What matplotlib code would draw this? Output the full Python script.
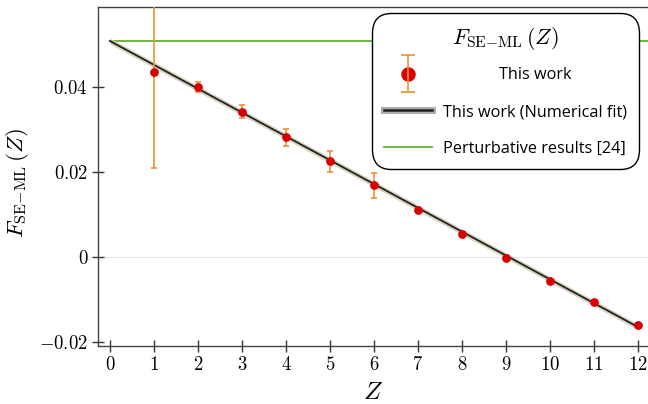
import matplotlib
matplotlib.use("Agg")
import matplotlib.pyplot as plt
from matplotlib.lines import Line2D
from matplotlib.container import ErrorbarContainer
from matplotlib.legend_handler import HandlerErrorbar
from matplotlib.offsetbox import DrawingArea, HPacker

plt.rcParams["mathtext.fontset"] = "cm"
plt.rcParams["font.family"] = ["Open Sans", "DejaVu Sans"]

# data
z_vals = [1, 2, 3, 4, 5, 6, 7, 8, 9, 10, 11, 12]
f_vals = [0.0434, 0.0399, 0.0341, 0.0281, 0.0224, 0.0168, 0.0109, 0.0054, -0.0002, -0.0056, -0.0107, -0.0160]
f_errs = [0.0226, 0.0012, 0.0016, 0.0020, 0.0025, 0.0029, 0.0004, 0.0004, 0.0004, 0.0004, 0.0005, 0.0005]

fit_z = [0, 12]
fit_f = [0.0507, -0.0165]
fit_band = [0.0007, 0.0007]

pert_z = [0, 12.3]
pert_f = [0.0507, 0.0507]

x_ticks = [0, 1, 2, 3, 4, 5, 6, 7, 8, 9, 10, 11, 12]
y_ticks = [-0.02, 0, 0.02, 0.04]
y_tick_labels = [r"$-0.02$", r"$0$", r"$0.02$", r"$0.04$"]

f_label = r"$F_{\mathrm{SE}{-}\mathrm{ML}}\,(Z)$"


class BarOverMarker(HandlerErrorbar):
    # draw the error bar over the marker and make the caps wider
    def create_artists(self, *args, **kwargs):
        arts = super().create_artists(*args, **kwargs)
        markers = [a for a in arts if isinstance(a, Line2D) and a.get_marker() == "o"]
        others = [a for a in arts if a not in markers]
        for a in others:
            if isinstance(a, Line2D) and a.get_marker() == "_":
                a.set_markersize(a.get_markersize() * 2)
        return markers + others


fig = plt.figure(figsize=(6.48, 4.04), dpi=100)
ax = fig.add_axes([98 / 648, 1 - 346 / 404, 550 / 648, 339 / 404])

ax.axhline(0, color="#e6e6e6", lw=0.8, zorder=0)

pert_line, = ax.plot(pert_z, pert_f, color="#66b032", lw=1.3, zorder=2)

lo = [f - b for f, b in zip(fit_f, fit_band)]
hi = [f + b for f, b in zip(fit_f, fit_band)]
ax.fill_between(fit_z, lo, hi, color="#cfc8b0", alpha=0.8, lw=0, zorder=2)
ax.plot(fit_z, fit_f, color="#222222", lw=1.3, zorder=3)

eb = ax.errorbar(z_vals, f_vals, yerr=f_errs, fmt="o", color="#d80000", ms=6.3,
                 ecolor="#e8913a", elinewidth=1.2, capsize=2.5, capthick=1.2, zorder=4)
eb[0].set_markeredgewidth(0)

ax.set_xlim(-0.273, 12.227)
ax.set_ylim(-0.02096, 0.0587)
ax.set_xticks(x_ticks)
ax.set_xticklabels([r"$%d$" % t for t in x_ticks])
ax.set_yticks(y_ticks)
ax.set_yticklabels(y_tick_labels)
ax.tick_params(direction="inout", length=8, width=1, color="#333333", labelsize=13.5, pad=3)

for side in ["left", "bottom", "top"]:
    ax.spines[side].set_color("#444444")
    ax.spines[side].set_linewidth(1)
ax.spines["right"].set_visible(False)

ax.set_xlabel(r"$Z$", fontsize=18)
ax.set_ylabel(f_label, fontsize=16.5)
ax.xaxis.set_label_coords(0.5, -0.1)
ax.yaxis.set_label_coords(-0.122, 0.48)

fit_handle = (Line2D([], [], color="#999999", lw=5, alpha=0.8),
              Line2D([], [], color="#222222", lw=1.8))
leg = ax.legend([eb, fit_handle, pert_line],
                ["This work", "This work (Numerical fit)", "Perturbative results [24]"],
                title=f_label, title_fontsize=16, fontsize=11.7,
                loc="upper right", bbox_to_anchor=(0.984, 0.982), borderaxespad=0,
                frameon=True, fancybox=True, edgecolor="black", framealpha=1,
                markerscale=1.65, labelspacing=1.27, handlelength=2.95,
                handletextpad=0.68, borderpad=0.75,
                handler_map={ErrorbarContainer: BarOverMarker(yerr_size=1.15)})
leg.get_frame().set_linewidth(1)
leg.get_frame().set_boxstyle("round,pad=0,rounding_size=1.2")
# smaller gap between the title and the first entry
leg._legend_box.sep = 10.9

# centre the first legend label in its column, like the reference
fig.canvas.draw()
rend = fig.canvas.get_renderer()
widths = [t.get_window_extent(rend).width for t in leg.get_texts()]
shift = (max(widths) - widths[0]) / 2 * 72 / fig.dpi
item = leg._legend_handle_box.get_children()[0].get_children()[0]
hbox, tbox = item.get_children()
item._children = [hbox, HPacker(children=[DrawingArea(shift, 0), tbox], pad=0, sep=0, align="baseline")]

fig.savefig("out.png", dpi=100)
